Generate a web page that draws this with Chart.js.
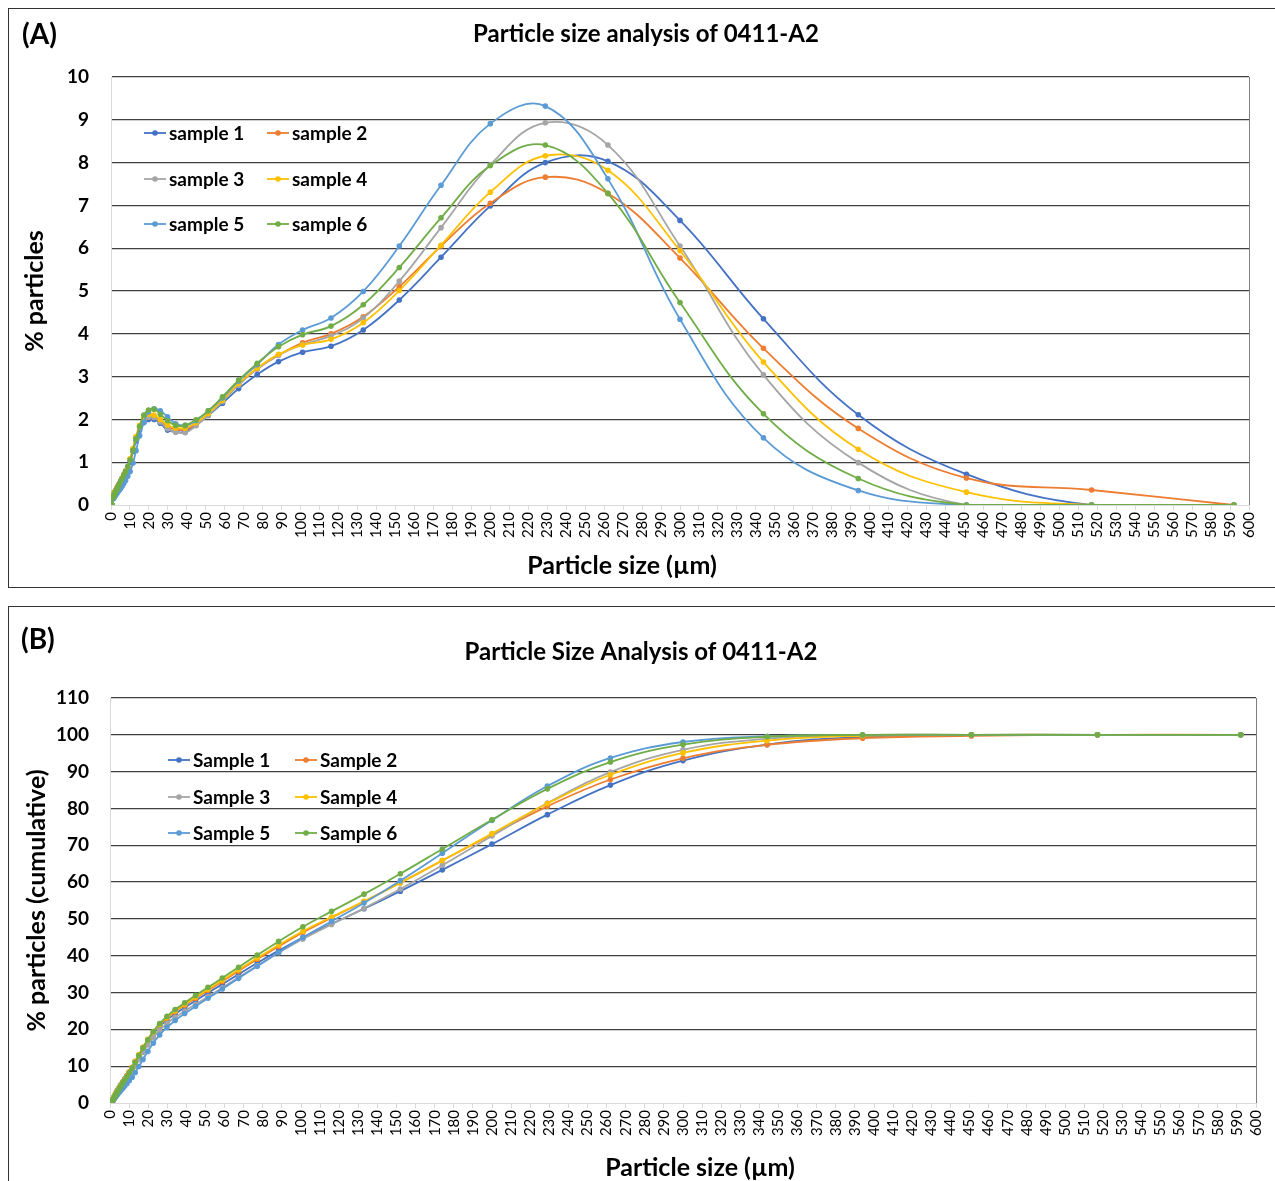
<!DOCTYPE html>
<html>
<head>
<meta charset="utf-8">
<script src="https://cdn.jsdelivr.net/npm/chart.js@4.4.1/dist/chart.umd.min.js"></script>
<style>
  html, body { margin: 0; padding: 0; background: #fff; overflow: hidden; }
  .panel { position: absolute; left: 8px; width: 1274px; border: 1px solid #333; background: #fff; }
  #panelA { top: 8px; height: 578px; }
  #panelB { top: 606px; height: 600px; }
  canvas { display: block; }
</style>
</head>
<body>
<div class="panel" id="panelA"><canvas id="chartA" width="1274" height="578"></canvas></div>
<div class="panel" id="panelB"><canvas id="chartB" width="1274" height="600"></canvas></div>
<script>
'use strict';

// ** DATA **

// particle size classes (µm)
const sizes = [0.58, 1.0, 1.15, 1.32, 1.51, 1.73, 1.98, 2.27, 2.6, 2.98, 3.41, 3.9, 4.47, 5.12, 5.87, 6.72, 7.7, 8.82,
  10.1, 11.6, 13.2, 15.1, 17.3, 19.8, 22.7, 26.0, 29.8, 34.1, 39.1, 44.8, 51.3, 58.8, 67.3, 77.1, 88.3,
  101, 116, 133, 152, 174, 200, 229, 262, 300, 344, 394, 451, 517, 592];

const labelsA = ['sample 1', 'sample 2', 'sample 3', 'sample 4', 'sample 5', 'sample 6'];
const labelsB = ['Sample 1', 'Sample 2', 'Sample 3', 'Sample 4', 'Sample 5', 'Sample 6'];
const sampleColors = ['#4472C4', '#ED7D31', '#A5A5A5', '#FFC000', '#5B9BD5', '#70AD47'];

// (A) % particles per size class
const pct1 = [0, 0.2, 0.22, 0.24, 0.26, 0.28, 0.3, 0.32, 0.35, 0.38, 0.42, 0.46, 0.5, 0.55, 0.61, 0.68, 0.77, 0.87,
  1.0, 1.25, 1.5, 1.75, 1.93, 2.0, 2.0, 1.91, 1.75, 1.71, 1.71, 1.87, 2.09, 2.38, 2.72, 3.05, 3.35,
  3.57, 3.71, 4.09, 4.79, 5.79, 6.99, 8.0, 8.03, 6.65, 4.35, 2.11, 0.72, 0, 0];
const pct2 = [0, 0.18, 0.2, 0.22, 0.24, 0.26, 0.28, 0.31, 0.34, 0.37, 0.41, 0.45, 0.5, 0.56, 0.63, 0.71, 0.8, 0.9,
  1.07, 1.3, 1.57, 1.82, 2.0, 2.07, 2.06, 1.97, 1.83, 1.76, 1.76, 1.9, 2.12, 2.44, 2.82, 3.18, 3.5,
  3.79, 4.0, 4.4, 5.1, 6.05, 7.05, 7.66, 7.28, 5.77, 3.66, 1.79, 0.63, 0.35, 0];
const pct3 = [0, 0.16, 0.17, 0.18, 0.2, 0.21, 0.23, 0.25, 0.27, 0.3, 0.33, 0.36, 0.4, 0.44, 0.49, 0.55, 0.7, 0.85,
  1.05, 1.28, 1.55, 1.8, 1.98, 2.05, 2.04, 1.94, 1.78, 1.7, 1.69, 1.85, 2.1, 2.42, 2.8, 3.18, 3.5,
  3.75, 3.95, 4.37, 5.23, 6.48, 7.95, 8.93, 8.41, 6.05, 3.04, 0.99, 0, 0, 0];
const pct4 = [0, 0.19, 0.21, 0.23, 0.25, 0.27, 0.29, 0.31, 0.34, 0.37, 0.41, 0.45, 0.49, 0.54, 0.6, 0.67, 0.76, 0.86,
  1.08, 1.32, 1.6, 1.86, 2.05, 2.12, 2.1, 2.0, 1.87, 1.8, 1.8, 1.92, 2.14, 2.45, 2.84, 3.2, 3.52,
  3.74, 3.87, 4.26, 5.01, 6.07, 7.31, 8.16, 7.82, 5.94, 3.34, 1.3, 0.3, 0, 0];
const pct5 = [0, 0.14, 0.15, 0.16, 0.17, 0.19, 0.2, 0.22, 0.24, 0.26, 0.29, 0.32, 0.35, 0.39, 0.44, 0.5, 0.57, 0.67,
  0.78, 0.98, 1.27, 1.62, 1.93, 2.18, 2.25, 2.2, 2.06, 1.9, 1.86, 1.97, 2.2, 2.5, 2.9, 3.28, 3.75,
  4.09, 4.37, 4.99, 6.05, 7.47, 8.91, 9.32, 7.62, 4.34, 1.57, 0.34, 0, 0, 0];
const pct6 = [0, 0.17, 0.19, 0.2, 0.22, 0.24, 0.26, 0.29, 0.32, 0.36, 0.4, 0.44, 0.5, 0.56, 0.62, 0.7, 0.78, 0.9,
  1.05, 1.28, 1.55, 1.84, 2.1, 2.22, 2.24, 2.12, 1.97, 1.86, 1.86, 1.99, 2.2, 2.53, 2.92, 3.31, 3.7,
  3.98, 4.18, 4.68, 5.55, 6.71, 7.93, 8.41, 7.28, 4.73, 2.13, 0.62, 0, 0, 0];

// (B) cumulative % particles
const cum1 = [0, 0.2, 0.42, 0.66, 0.92, 1.2, 1.5, 1.82, 2.17, 2.55, 2.97, 3.43, 3.93, 4.48, 5.09, 5.77, 6.54, 7.41,
  8.41, 9.66, 11.16, 12.91, 14.84, 16.84, 18.84, 20.75, 22.5, 24.21, 25.92, 27.79, 29.88, 32.26, 34.98, 38.03, 41.38,
  44.95, 48.66, 52.75, 57.54, 63.33, 70.32, 78.32, 86.35, 93.0, 97.35, 99.46, 100, 100, 100];
const cum2 = [0, 0.18, 0.38, 0.6, 0.84, 1.1, 1.38, 1.69, 2.03, 2.4, 2.81, 3.26, 3.76, 4.32, 4.95, 5.66, 6.46, 7.36,
  8.43, 9.73, 11.3, 13.12, 15.12, 17.19, 19.25, 21.22, 23.05, 24.81, 26.57, 28.47, 30.59, 33.03, 35.85, 39.03, 42.53,
  46.32, 50.32, 54.72, 59.82, 65.87, 72.92, 80.58, 87.86, 93.63, 97.29, 99.08, 99.71, 100, 100];
const cum3 = [0, 0.16, 0.33, 0.51, 0.71, 0.92, 1.15, 1.4, 1.67, 1.97, 2.3, 2.66, 3.06, 3.5, 3.99, 4.54, 5.24, 6.09,
  7.14, 8.42, 9.97, 11.77, 13.75, 15.8, 17.84, 19.78, 21.56, 23.26, 24.95, 26.8, 28.9, 31.32, 34.12, 37.3, 40.8,
  44.55, 48.5, 52.87, 58.1, 64.58, 72.53, 81.46, 89.87, 95.92, 98.96, 99.95, 100, 100, 100];
const cum4 = [0, 0.19, 0.4, 0.63, 0.88, 1.15, 1.44, 1.75, 2.09, 2.46, 2.87, 3.32, 3.81, 4.35, 4.95, 5.62, 6.38, 7.24,
  8.32, 9.64, 11.24, 13.1, 15.15, 17.27, 19.37, 21.37, 23.24, 25.04, 26.84, 28.76, 30.9, 33.35, 36.19, 39.39, 42.91,
  46.65, 50.52, 54.78, 59.79, 65.86, 73.17, 81.33, 89.15, 95.09, 98.43, 99.73, 100, 100, 100];
const cum5 = [0, 0.14, 0.29, 0.45, 0.62, 0.81, 1.01, 1.23, 1.47, 1.73, 2.02, 2.34, 2.69, 3.08, 3.52, 4.02, 4.59, 5.26,
  6.04, 7.02, 8.29, 9.91, 11.84, 14.02, 16.27, 18.47, 20.53, 22.43, 24.29, 26.26, 28.46, 30.96, 33.86, 37.14, 40.89,
  44.98, 49.35, 54.34, 60.39, 67.86, 76.77, 86.09, 93.71, 98.05, 99.62, 99.96, 100, 100, 100];
const cum6 = [0, 0.17, 0.36, 0.56, 0.78, 1.02, 1.28, 1.57, 1.89, 2.25, 2.65, 3.09, 3.59, 4.15, 4.77, 5.47, 6.25, 7.15,
  8.2, 9.48, 11.03, 12.87, 14.97, 17.19, 19.43, 21.55, 23.52, 25.38, 27.24, 29.23, 31.43, 33.96, 36.88, 40.19, 43.89,
  47.87, 52.05, 56.73, 62.28, 68.99, 76.92, 85.33, 92.61, 97.34, 99.47, 100, 100, 100, 100];

const pctSeries = [pct1, pct2, pct3, pct4, pct5, pct6];
const cumSeries = [cum1, cum2, cum3, cum4, cum5, cum6];

// ** STYLE **

const FONT = 'Lato, "DejaVu Sans", sans-serif';
const GRID_DARK = '#404040';
const AXIS_LIGHT = '#d9d9d9';

// ** HELPERS **

function buildDatasets(series, labels) {
  return series.map((values, i) => ({
    label: labels[i],
    data: sizes.map((s, j) => ({ x: s, y: values[j] })),
    borderColor: sampleColors[i],
    backgroundColor: sampleColors[i],
    pointBackgroundColor: sampleColors[i],
    pointBorderWidth: 0,
    pointRadius: 2.8,
    borderWidth: 1.8,
    tension: 0.4,
    order: 6 - i // sample 6 drawn on top, like the original
  }));
}

// draws panel letter, x-axis title, in-plot legend and right border
const panelText = {
  id: 'panelText',
  afterDraw(chart, args, opts) {
    const ctx = chart.ctx;
    const area = chart.chartArea;
    ctx.save();

    ctx.strokeStyle = '#7f7f7f';
    ctx.lineWidth = 1;
    ctx.beginPath();
    ctx.moveTo(area.right + 0.5, area.top);
    ctx.lineTo(area.right + 0.5, area.bottom);
    ctx.stroke();

    ctx.fillStyle = '#000';
    ctx.textBaseline = 'middle';
    ctx.textAlign = 'left';
    ctx.font = 'bold 28px ' + FONT;
    ctx.fillText(opts.letter, opts.letterX, opts.letterY);

    ctx.textAlign = 'center';
    ctx.font = 'bold 25px ' + FONT;
    ctx.fillText(opts.xTitle, opts.xTitleX, opts.xTitleY);

    ctx.textAlign = 'left';
    ctx.font = 'bold 19px ' + FONT;
    chart.data.datasets.forEach((ds, i) => {
      const lx = opts.legendCols[i % 2];
      const ly = opts.legendRows[Math.floor(i / 2)];
      ctx.strokeStyle = ds.borderColor;
      ctx.lineWidth = 1.8;
      ctx.beginPath();
      ctx.moveTo(lx, ly);
      ctx.lineTo(lx + 22, ly);
      ctx.stroke();
      ctx.fillStyle = ds.borderColor;
      ctx.beginPath();
      ctx.arc(lx + 11, ly, 2.8, 0, Math.PI * 2);
      ctx.fill();
      ctx.fillStyle = '#000';
      ctx.fillText(ds.label, lx + 25, ly + 1);
    });

    ctx.restore();
  }
};

function makeOptions(cfg) {
  return {
    responsive: false,
    animation: false,
    layout: { padding: { left: cfg.padLeft, right: cfg.padRight, top: 0, bottom: 0 } },
    plugins: {
      legend: { display: false },
      tooltip: { enabled: false },
      title: {
        display: true,
        text: cfg.title,
        color: '#000',
        font: { family: FONT, size: 24, weight: 'bold' },
        padding: { top: cfg.titleTop, bottom: cfg.titleBottom }
      },
      panelText: cfg.panelText
    },
    scales: {
      x: {
        type: 'linear',
        min: 0,
        max: 600,
        ticks: {
          stepSize: 10,
          autoSkip: false,
          maxRotation: 90,
          minRotation: 90,
          padding: 2,
          color: '#000',
          font: { family: FONT, size: 15 }
        },
        grid: { drawOnChartArea: false, drawTicks: true, tickLength: 5, color: AXIS_LIGHT },
        border: { color: AXIS_LIGHT },
        afterFit: s => { s.height = cfg.xHeight; }
      },
      y: {
        min: 0,
        max: cfg.yMax,
        ticks: {
          stepSize: cfg.yStep,
          padding: cfg.yTickPad,
          color: '#000',
          font: { family: FONT, size: 19, weight: 'bold' }
        },
        grid: {
          drawTicks: false,
          lineWidth: 1.2,
          color: c => (c.tick && c.tick.value === 0 ? 'rgba(0,0,0,0)' : GRID_DARK)
        },
        border: { color: AXIS_LIGHT },
        title: {
          display: true,
          text: cfg.yTitle,
          color: '#000',
          font: { family: FONT, size: 25, weight: 'bold' },
          padding: { top: cfg.yTitlePad, bottom: 0 }
        },
        afterFit: s => { s.width = cfg.yWidth; }
      }
    }
  };
}

// ** CHART A **

new Chart(document.getElementById('chartA'), {
  type: 'line',
  data: { datasets: buildDatasets(pctSeries, labelsA) },
  options: makeOptions({
    title: 'Particle size analysis of 0411-A2',
    titleTop: 10.6,
    titleBottom: 28.6,
    padLeft: 34,
    padRight: 34,
    xHeight: 82,
    yWidth: 68,
    yMax: 10,
    yStep: 1,
    yTickPad: 22,
    yTitle: '% particles',
    yTitlePad: -23,
    panelText: {
      letter: '(A)', letterX: 13, letterY: 26,
      xTitle: 'Particle size (\u00b5m)', xTitleX: 613, xTitleY: 557,
      legendCols: [135, 258], legendRows: [124, 170, 215]
    }
  }),
  plugins: [panelText]
});

// ** CHART B **

new Chart(document.getElementById('chartB'), {
  type: 'line',
  data: { datasets: buildDatasets(cumSeries, labelsB) },
  options: makeOptions({
    title: 'Particle Size Analysis of 0411-A2',
    titleTop: 30.6,
    titleBottom: 31.6,
    padLeft: 17,
    padRight: 27,
    xHeight: 104,
    yWidth: 84,
    yMax: 110,
    yStep: 10,
    yTickPad: 21,
    yTitle: '% particles (cumulative)',
    yTitlePad: -4,
    panelText: {
      letter: '(B)', letterX: 12, letterY: 33,
      xTitle: 'Particle size (\u00b5m)', xTitleX: 691, xTitleY: 561,
      legendCols: [159, 286], legendRows: [153, 190, 226]
    }
  }),
  plugins: [panelText]
});
</script>
</body>
</html>
